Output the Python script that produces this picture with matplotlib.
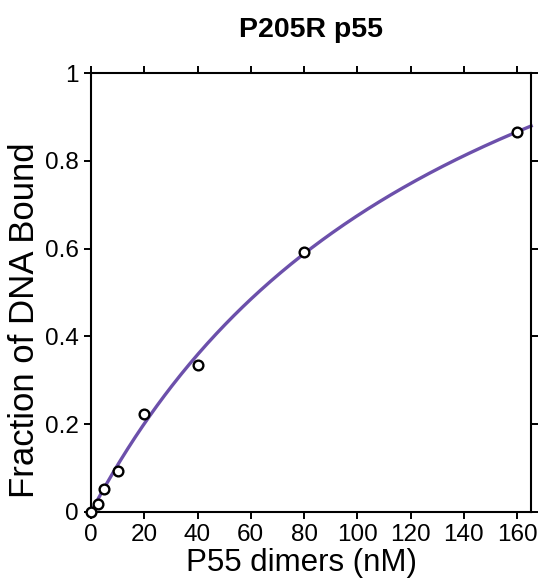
import numpy as np
import matplotlib
matplotlib.use("Agg")
import matplotlib.pyplot as plt
from matplotlib.ticker import FuncFormatter

plt.rcParams['font.family'] = ['Liberation Sans', 'DejaVu Sans']

# data
conc = [0, 2.5, 5, 10, 20, 40, 80, 160]
fraction = [0.0, 0.018, 0.052, 0.093, 0.223, 0.334, 0.593, 0.865]
# hyperbolic fit parameters
bmax = 1.64
kd = 143.0
xticks = [0, 20, 40, 60, 80, 100, 120, 140, 160]
yticks = [0, 0.2, 0.4, 0.6, 0.8, 1.0]
title = "P205R p55"
xlabel = "P55 dimers (nM)"
ylabel = "Fraction of DNA Bound"

fig = plt.figure(figsize=(5.42, 5.84), dpi=100)
ax = fig.add_axes([0.168, 0.1233, 0.812, 0.7517])

xmax = 165.3
xf = np.linspace(0, xmax, 300)
yf = bmax * xf / (kd + xf)
ax.plot(xf, yf, color='#6c50ab', lw=2.4, zorder=2, clip_on=False)
ax.plot(conc, fraction, 'o', ms=7, mfc='white', mec='black', mew=1.7,
        zorder=3, clip_on=False)

ax.set_xlim(0, xmax)
ax.set_ylim(0, 1)
ax.set_xticks(xticks)
ax.set_yticks(yticks)
ax.yaxis.set_major_formatter(FuncFormatter(lambda v, p: f"{v:g}"))
ax.tick_params(direction='out', top=True, right=True, length=5, width=1.4,
               labelsize=17.5, pad=4)
for s in ax.spines.values():
    s.set_linewidth(1.5)

ax.set_xlabel(xlabel, fontsize=22.5)
ax.xaxis.set_label_coords(0.478, -0.082, transform=ax.transAxes)
ax.xaxis.label.set_va('top')
ax.set_ylabel(ylabel, fontsize=25)
ax.yaxis.set_label_coords(-0.152, 0.437, transform=ax.transAxes)
ax.yaxis.label.set_va('center')
ax.yaxis.label.set_ha('center')
ax.set_title(title, fontsize=20.5, fontweight='bold', pad=26)

fig.savefig("out.png", dpi=100)
